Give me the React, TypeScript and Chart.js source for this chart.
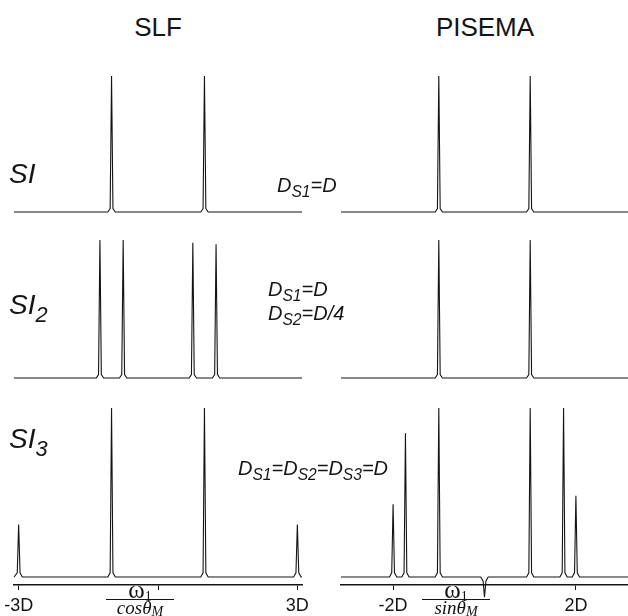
import React, { useEffect, useRef } from 'react';
import { Chart, registerables } from 'chart.js';

Chart.register(...registerables);

// ---- data (peak positions in units of D, relative intensities) ----
const SLF_SI_POS = [-1, 1];
const SLF_SI_AMP = [1, 1];
const SLF_SI2_POS = [-1.25, -0.75, 0.75, 1.25];
const SLF_SI2_AMP = [1, 1, 0.98, 0.97];
const SLF_SI3_POS = [-3, -1, 1, 3];
const SLF_SI3_AMP = [0.31, 1, 1, 0.31];

const PIS_SI_POS = [-1, 1];
const PIS_SI_AMP = [1, 1];
const PIS_SI2_POS = [-1, 1];
const PIS_SI2_AMP = [1, 1];
const PIS_SI3_POS = [-2, -1.73, -1, 0, 1, 1.73, 2];
const PIS_SI3_AMP = [0.43, 0.85, 1, -0.12, 1, 1, 0.48];

const SLF_TICKS = [-3, 0, 3];
const SLF_TICK_LABELS = ['-3D', '', '3D'];
const PIS_TICKS = [-2, 2];
const PIS_TICK_LABELS = ['-2D', '2D'];

const SLF_RANGE = [-3.1, 3.1];
const PIS_RANGE = [-3.14, 3.14];

// peak shape (style only)
const FOOT = 0.08;
const NECK = 0.03;

function buildSpectrum(pos: number[], amp: number[], range: number[]) {
  const pts: { x: number; y: number }[] = [{ x: range[0], y: 0 }];
  pos.forEach((p, i) => {
    const h = amp[i];
    const s = Math.sign(h) * 0.025;
    pts.push(
      { x: p - FOOT, y: 0 },
      { x: p - NECK, y: s },
      { x: p, y: h },
      { x: p + NECK, y: s },
      { x: p + FOOT, y: 0 }
    );
  });
  pts.push({ x: range[1], y: 0 });
  return pts;
}

const SANS = '"Liberation Sans", Arial, Helvetica, sans-serif';
const SERIF = '"Liberation Serif", "Times New Roman", serif';
const INK = '#141414';

type SpecProps = {
  left: number;
  top: number;
  width: number;
  height: number;
  pad: { left: number; right: number; top: number; bottom: number };
  range: number[];
  yMin: number;
  pos: number[];
  amp: number[];
  ticks?: number[];
  tickLabels?: string[];
};

function Spectrum(props: SpecProps) {
  const ref = useRef<HTMLCanvasElement | null>(null);
  useEffect(() => {
    const { range, yMin, pos, amp, ticks, tickLabels, pad } = props;
    const showAxis = !!ticks;
    const chart = new Chart(ref.current as HTMLCanvasElement, {
      type: 'line',
      data: {
        datasets: [
          {
            data: buildSpectrum(pos, amp, range),
            borderColor: INK,
            borderWidth: 1.1,
            pointRadius: 0,
            tension: 0,
            fill: false,
            clip: false as any,
          },
        ],
      },
      options: {
        animation: false,
        responsive: false,
        maintainAspectRatio: false,
        layout: { padding: pad },
        plugins: { legend: { display: false }, tooltip: { enabled: false } },
        scales: {
          x: {
            type: 'linear',
            min: range[0],
            max: range[1],
            display: showAxis,
            afterBuildTicks: (s: any) => {
              if (ticks) s.ticks = ticks.map((v) => ({ value: v }));
            },
            afterFit: (s: any) => {
              if (!showAxis) return;
              s.height = 31;
              s.paddingLeft = 0;
              s.paddingRight = 0;
            },
            ticks: {
              autoSkip: false,
              maxRotation: 0,
              padding: 5,
              color: INK,
              font: { family: SANS, size: 18 },
              callback: (_v: any, i: number) => (tickLabels ? tickLabels[i] : ''),
            },
            grid: {
              drawOnChartArea: false,
              drawTicks: true,
              tickLength: 5,
              color: INK,
              lineWidth: 1,
            },
            border: { display: true, color: INK, width: 1.5 },
          } as any,
          y: { min: yMin, max: 1, display: false },
        },
      },
    });
    return () => chart.destroy();
  }, []);
  return (
    <canvas
      ref={ref}
      width={props.width}
      height={props.height}
      style={{ position: 'absolute', left: props.left, top: props.top, width: props.width, height: props.height }}
    />
  );
}

const subStyle: React.CSSProperties = { fontSize: '0.78em', verticalAlign: '-0.35em', lineHeight: 0 };

function Txt({ left, top, size, italic, children, family }: any) {
  return (
    <div
      style={{
        position: 'absolute',
        left,
        top,
        fontFamily: family || SANS,
        fontSize: size,
        fontStyle: italic ? 'italic' : 'normal',
        lineHeight: 1,
        whiteSpace: 'nowrap',
        color: INK,
      }}
    >
      {children}
    </div>
  );
}

function Fraction({ cx, num, den }: any) {
  const base: React.CSSProperties = {
    position: 'absolute',
    left: cx - 34,
    width: 68,
    textAlign: 'center',
    fontFamily: SERIF,
    color: INK,
    whiteSpace: 'nowrap',
  };
  return (
    <>
      <div style={{ ...base, top: 583, fontSize: 25, lineHeight: '14px' }}>
        {num}
        <sub style={{ fontSize: 14, verticalAlign: '-0.2em', lineHeight: 0 }}>1</sub>
      </div>
      <div style={{ ...base, top: 599, height: 0, borderTop: `1.5px solid ${INK}` }} />
      <div style={{ ...base, top: 601, fontSize: 19, lineHeight: '14px', fontStyle: 'italic' }}>
        {den}θ<sub style={{ fontSize: 14, verticalAlign: '-0.12em', lineHeight: 0 }}>M</sub>
      </div>
    </>
  );
}

export default function App() {
  const padL = { left: 14, right: 18, top: 6, bottom: 6 };
  const padR = { left: 21, right: 0, top: 6, bottom: 6 };
  const padL3 = { left: 14, right: 18, top: 6, bottom: 0 };
  const padR3 = { left: 21, right: 0, top: 6, bottom: 0 };
  const yMin3 = -0.0473;
  return (
    <div style={{ position: 'absolute', left: 0, top: 0, width: 628, height: 616, background: '#fff', overflow: 'hidden' }}>
      <Spectrum left={0} top={70} width={320} height={148} pad={padL} range={SLF_RANGE} yMin={0} pos={SLF_SI_POS} amp={SLF_SI_AMP} />
      <Spectrum left={320} top={70} width={308} height={148} pad={padR} range={PIS_RANGE} yMin={0} pos={PIS_SI_POS} amp={PIS_SI_AMP} />
      <Spectrum left={0} top={234} width={320} height={150} pad={padL} range={SLF_RANGE} yMin={0} pos={SLF_SI2_POS} amp={SLF_SI2_AMP} />
      <Spectrum left={320} top={234} width={308} height={150} pad={padR} range={PIS_RANGE} yMin={0} pos={PIS_SI2_POS} amp={PIS_SI2_AMP} />
      <Spectrum left={0} top={402} width={320} height={214} pad={padL3} range={SLF_RANGE} yMin={yMin3} pos={SLF_SI3_POS} amp={SLF_SI3_AMP} ticks={SLF_TICKS} tickLabels={SLF_TICK_LABELS} />
      <Spectrum left={320} top={402} width={308} height={214} pad={padR3} range={PIS_RANGE} yMin={yMin3} pos={PIS_SI3_POS} amp={PIS_SI3_AMP} ticks={PIS_TICKS} tickLabels={PIS_TICK_LABELS} />

      <div style={{ position: 'absolute', left: 98, top: 14, width: 120, textAlign: 'center', fontFamily: SANS, fontSize: 26, lineHeight: 1, color: INK }}>SLF</div>
      <div style={{ position: 'absolute', left: 415, top: 14, width: 140, textAlign: 'center', fontFamily: SANS, fontSize: 26, lineHeight: 1, color: INK }}>PISEMA</div>

      <Txt left={9} top={160} size={28} italic>SI</Txt>
      <Txt left={9} top={291} size={28} italic>
        SI<sub style={subStyle}>2</sub>
      </Txt>
      <Txt left={9} top={425} size={28} italic>
        SI<sub style={subStyle}>3</sub>
      </Txt>

      <Txt left={277} top={175} size={20} italic>
        D<sub style={subStyle}>S1</sub>=D
      </Txt>
      <Txt left={268} top={279} size={20} italic>
        D<sub style={subStyle}>S1</sub>=D
      </Txt>
      <Txt left={268} top={303} size={20} italic>
        D<sub style={subStyle}>S2</sub>=D/4
      </Txt>
      <Txt left={238} top={458} size={20} italic>
        D<sub style={subStyle}>S1</sub>=D<sub style={subStyle}>S2</sub>=D<sub style={subStyle}>S3</sub>=D
      </Txt>

      <Fraction cx={140} num="ω" den="cos" />
      <Fraction cx={456} num="ω" den="sin" />
    </div>
  );
}
